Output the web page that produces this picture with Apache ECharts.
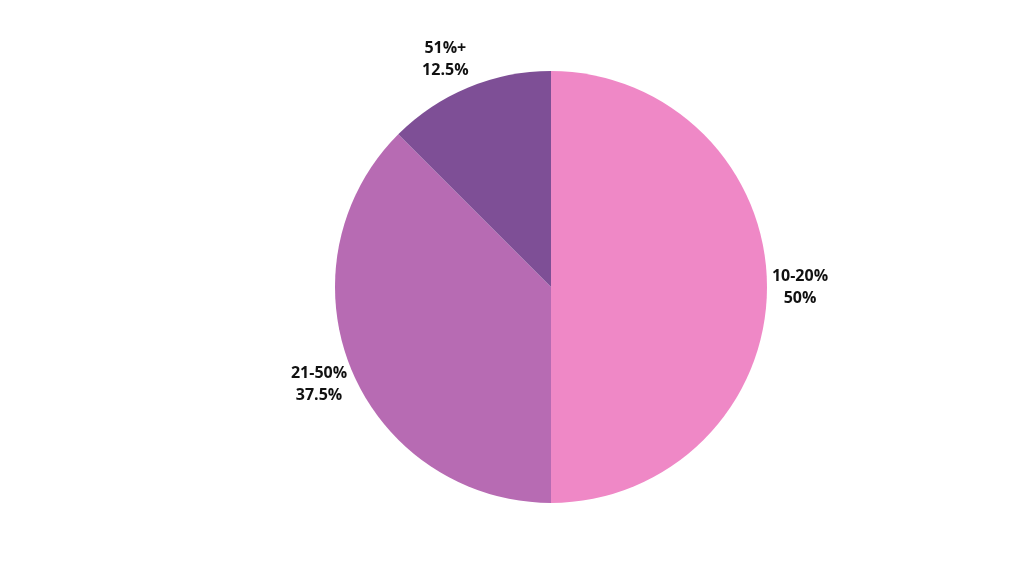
<!DOCTYPE html>
<html><head><meta charset="utf-8">
<script src="https://cdn.jsdelivr.net/npm/echarts@6/dist/echarts.min.js"></script>
<style>html,body{margin:0;padding:0;background:#fff}#c{width:1024px;height:576px}</style>
</head><body><div id="c"></div>
<script>
const categories = ["10-20%", "21-50%", "51%+"];
const values = [50, 37.5, 12.5];
const colors = ["#EF88C6", "#B76BB3", "#7E4F96"];

const data = categories.map((c, i) => ({ name: c, value: values[i], itemStyle: { color: colors[i] } }));
const labelNudge = { "51%+": [-9, 3], "21-50%": [0, 2] };
const labelData = categories.map((c, i) => ({
  name: c, value: values[i],
  label: labelNudge[c] ? { offset: labelNudge[c] } : undefined
}));

const chart = echarts.init(document.getElementById('c'), null, { renderer: 'canvas' });
chart.setOption({
  animation: false,
  series: [
    {
      type: 'pie',
      center: [551, 287],
      radius: [0, 216],
      startAngle: 90,
      clockwise: true,
      silent: true,
      label: { show: false },
      labelLine: { show: false },
      data: data
    },
    {
      type: 'pie',
      center: [550, 287],
      radius: [234, 260],
      startAngle: 90,
      clockwise: true,
      silent: true,
      itemStyle: { color: 'rgba(0,0,0,0)' },
      label: {
        show: true,
        position: 'inside',
        formatter: p => p.name + '\n' + p.value + '%',
        fontFamily: 'Open Sans',
        fontWeight: 'bold',
        fontSize: 16,
        lineHeight: 22,
        color: '#111',
        align: 'center'
      },
      labelLine: { show: false },
      data: labelData
    }
  ]
});
</script></body></html>
